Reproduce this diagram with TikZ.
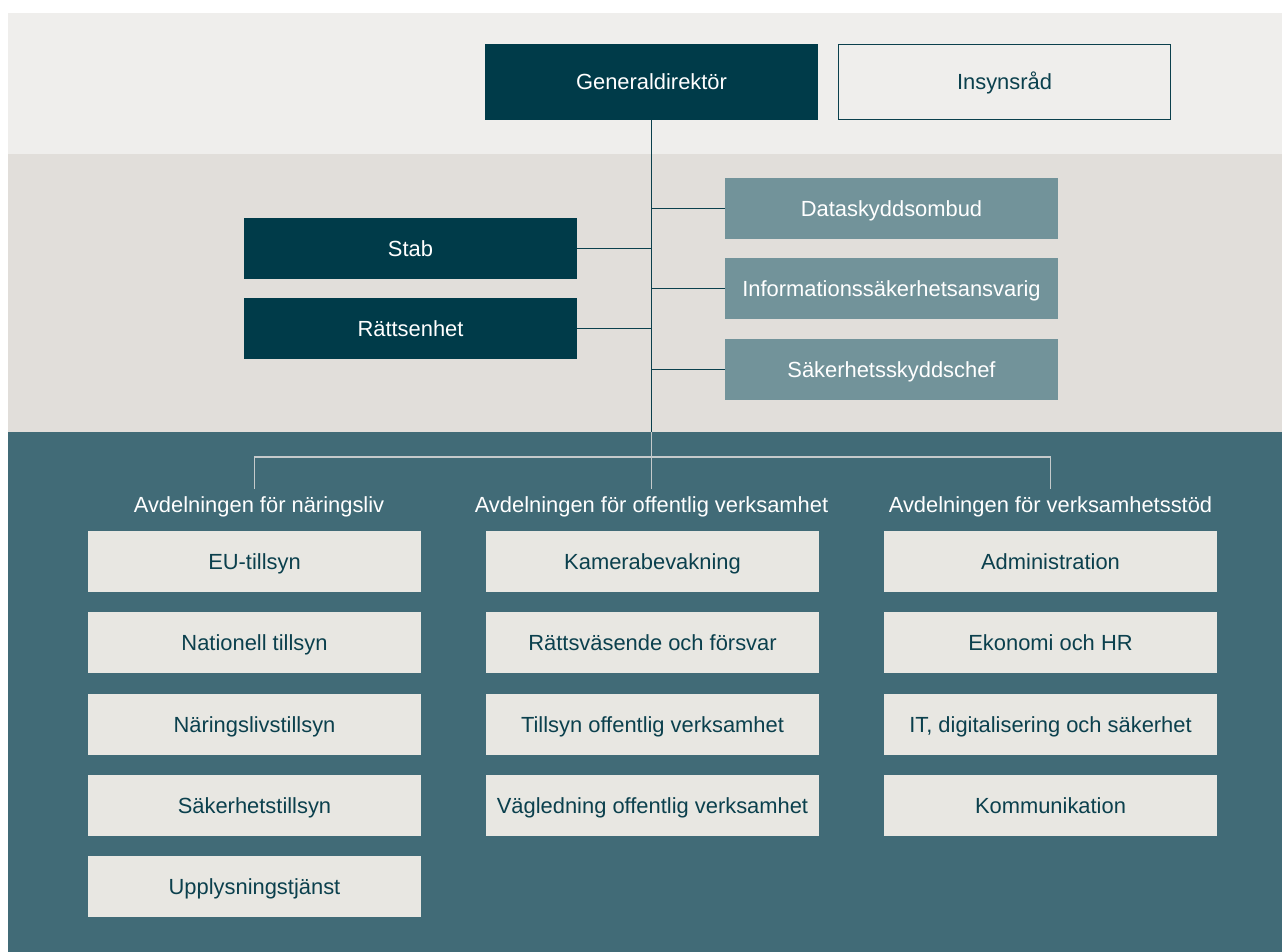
\documentclass[tikz,border=0pt]{standalone}
\usepackage{fontspec}
\setmainfont{Liberation Sans}
\definecolor{topband}{HTML}{EFEEEC}
\definecolor{midband}{HTML}{E1DEDA}
\definecolor{botband}{HTML}{416B77}
\definecolor{darkbox}{HTML}{003B49}
\definecolor{midbox}{HTML}{72939A}
\definecolor{lightbox}{HTML}{E8E7E2}
\definecolor{lightline}{HTML}{C5CACB}
\definecolor{darktext}{HTML}{0B404D}
\begin{document}
\begin{tikzpicture}[x=1pt,y=-1pt,
  every node/.style={font=\fontsize{21.9}{26}\selectfont},
  box/.style={rectangle,inner sep=0pt,minimum width=333pt,minimum height=61pt,text height=15pt,text depth=0pt},
  darkb/.style={box,fill=darkbox,text=white},
  midb/.style={box,fill=midbox,text=white},
  lightb/.style={box,fill=lightbox,text=darktext},
  outlineb/.style={box,draw=darktext,line width=1.2pt,fill=topband,text=darktext,minimum width=332pt,minimum height=75pt},
  deptlabel/.style={anchor=base,inner sep=0pt,text=white},
  conn/.style={draw=darktext,line width=1.3pt},
  lconn/.style={draw=lightline,line width=1.3pt}]
\useasboundingbox (0,0) rectangle (1282,952);
\fill[white] (0,0) rectangle (1282,952);
\fill[topband] (8,13) rectangle (1282,154);
\fill[midband] (8,154) rectangle (1282,432);
\fill[botband] (8,432) rectangle (1282,952);

% top
\node[darkb,minimum height=76pt] (gd) at (651.5,82) {Generaldirektör};
\node[outlineb] (ins) at (1004.5,82) {Insynsråd};

% middle
\node[midb] (data) at (891.5,208.5) {Dataskyddsombud};
\node[midb] (info) at (891.5,288.5) {Informationssäkerhetsansvarig};
\node[midb] (sak) at (891.5,369.5) {Säkerhetsskyddschef};
\node[darkb] (stab) at (410.5,248.5) {Stab};
\node[darkb] (ratt) at (410.5,328.5) {Rättsenhet};

\coordinate (trunk) at (651.5,432);
\draw[conn] (gd.south) -- (trunk);
\draw[conn] (gd.south |- data.west) -- (data.west);
\draw[conn] (gd.south |- info.west) -- (info.west);
\draw[conn] (gd.south |- sak.west) -- (sak.west);
\draw[conn] (stab.east) -- (stab.east -| gd.south);
\draw[conn] (ratt.east) -- (ratt.east -| gd.south);

% bottom
\node[deptlabel] (d1) at (259,512.5) {Avdelningen för näringsliv};
\node[deptlabel] (d2) at (651.5,512.5) {Avdelningen för offentlig verksamhet};
\node[deptlabel] (d3) at (1050.5,512.5) {Avdelningen för verksamhetsstöd};

\coordinate (s1) at (254.5,457);
\coordinate (s2) at (651.5,457);
\coordinate (s3) at (1050.5,457);
\coordinate (e1) at (254.5,489);
\coordinate (e2) at (651.5,489);
\coordinate (e3) at (1050.5,489);
\draw[lconn] (trunk) -- (e2);
\draw[lconn] (e1) -- (s1) -- (s3) -- (e3);

\node[lightb] (a1) at (254.5,561.5) {EU-tillsyn};
\node[lightb] (a2) at (254.5,642.5) {Nationell tillsyn};
\node[lightb] (a3) at (254.5,724.5) {Näringslivstillsyn};
\node[lightb] (a4) at (254.5,805.5) {Säkerhetstillsyn};
\node[lightb] (a5) at (254.5,886.5) {Upplysningstjänst};

\node[lightb] (b1) at (652.5,561.5) {Kamerabevakning};
\node[lightb] (b2) at (652.5,642.5) {Rättsväsende och försvar};
\node[lightb] (b3) at (652.5,724.5) {Tillsyn offentlig verksamhet};
\node[lightb] (b4) at (652.5,805.5) {Vägledning offentlig verksamhet};

\node[lightb] (c1) at (1050.5,561.5) {Administration};
\node[lightb] (c2) at (1050.5,642.5) {Ekonomi och HR};
\node[lightb] (c3) at (1050.5,724.5) {IT, digitalisering och säkerhet};
\node[lightb] (c4) at (1050.5,805.5) {Kommunikation};
\end{tikzpicture}
\end{document}
